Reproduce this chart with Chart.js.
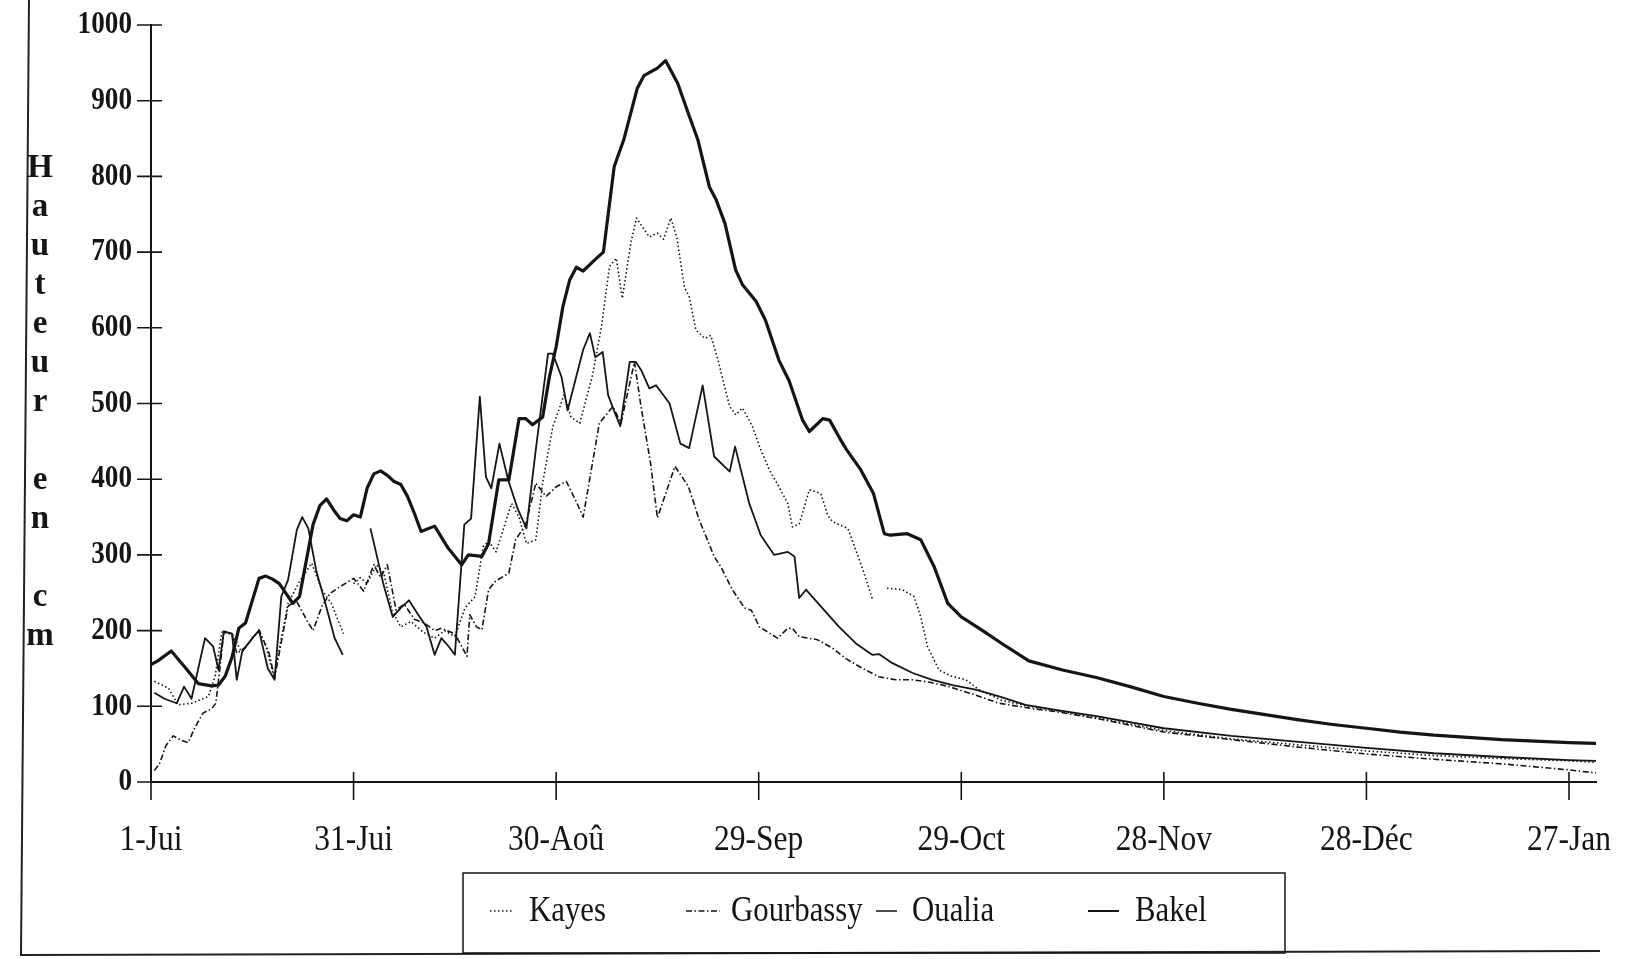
<!DOCTYPE html>
<html><head><meta charset="utf-8">
<script src="https://cdn.jsdelivr.net/npm/chart.js@4"></script>
<style>html,body{margin:0;padding:0;background:#fff}</style>
</head><body>
<canvas id="c" width="1625" height="959"></canvas>
<script>
// x axis: days since 1 July
const tickDays = [0, 30, 60, 90, 120, 150, 180, 210];
const tickLabels = ['1-Jui', '31-Jui', '30-Aoû', '29-Sep', '29-Oct', '28-Nov', '28-Déc', '27-Jan'];
const seriesNames = ['Kayes', 'Gourbassy', 'Oualia', 'Bakel'];
const yTitle = 'Hauteur en cm';

// [day, height in cm]
const kayes = [[0.5,133],[2.6,124],[4,102],[6,104],[8.5,113],[9.5,140],[10.5,198],[12,196],[13.4,172],[15,190],[15.9,199],[17,180],[18.2,139],[19.3,190],[20.3,236],[22,265],[23.8,289],[25.3,254],[26.7,236],[28.5,196],[29.2,null],[30,262],[31,270],[32,262],[33.4,287],[34.5,275],[35.7,226],[37,205],[38.5,212],[40.3,198],[42,190],[43.5,200],[45,192],[46.5,230],[48,245],[49.2,311],[50,318],[51.1,304],[53.4,368],[54.5,350],[55.6,315],[57,320],[58,395],[59.5,469],[61.2,512],[62.2,482],[63.5,474],[65.4,538],[66.7,601],[67.9,681],[68.9,692],[69.8,639],[71.1,714],[71.9,745],[73.8,720],[75,725],[75.9,717],[77,745],[77.9,718],[79,654],[79.7,641],[80.7,597],[82,586],[82.9,590],[83.9,560],[85.7,496],[86.6,485],[87.6,494],[89.1,469],[90.3,439],[91.6,412],[93,390],[94.3,368],[95,337],[96,341],[97.5,386],[99.2,381],[100.2,353],[100.9,344],[103.2,335],[104.4,306],[105.6,276],[106.9,240],[108,null],[109,256],[111.3,254],[113,245],[114,218],[115,179],[116.7,148],[118.5,140],[120.7,135],[122.6,122],[126,108],[130,100],[135,93],[140,85],[150,68],[160,57],[170,49],[180,41],[190,35],[200,31],[210,28],[214,26]];

const gourbassy = [[0.5,15],[1.3,25],[2.2,48],[3.3,61],[4.5,55],[5.5,52],[6.5,72],[7.7,91],[9,97],[9.6,104],[10.2,150],[10.8,199],[12,194],[12.7,170],[14,178],[16,201],[17.5,170],[18.3,137],[19.3,185],[20.3,232],[21.5,240],[23,215],[24,200],[25.3,232],[26.5,249],[28,258],[30,269],[31.5,252],[33,287],[34,270],[35,287],[36.3,227],[37.5,235],[39,215],[40.5,210],[42,200],[43,203],[45,196],[46.8,166],[47.2,221],[48.2,205],[49,201],[50,254],[51,265],[53,276],[54,320],[55.5,340],[57,395],[58.5,377],[60,390],[61.5,397],[63,370],[64,350],[66.4,474],[68.4,496],[69.6,474],[71.6,555],[72.5,500],[74,420],[75,349],[77.6,417],[78.5,405],[79.6,390],[81.2,346],[83.4,298],[84.4,284],[86.1,254],[87.9,230],[88.9,227],[90.1,205],[92.8,190],[94.3,203],[95,203],[96,192],[98.7,188],[100.9,177],[102.9,163],[105.4,150],[107.8,139],[110.3,135],[112.8,135],[115.2,132],[118.2,126],[122,115],[125.6,104],[130.5,97],[134,93],[140,84],[150,66],[160,56],[170,46],[180,37],[190,30],[200,24],[210,16],[214,12]];

const oualia = [[0.5,118],[2,110],[3.8,104],[4.9,126],[6,110],[8,190],[9.2,179],[10,148],[10.8,199],[12,196],[12.7,135],[13.5,172],[15,190],[16,200],[17.3,150],[18.3,135],[19.3,245],[20.3,267],[21.6,333],[22.4,350],[23.3,335],[24.5,278],[25.7,240],[27.2,190],[28.4,168],[30,null],[32.5,335],[34.4,262],[35.8,218],[37,230],[38.2,240],[39.5,222],[40.8,205],[42,168],[43,190],[44,180],[45,168],[46.4,340],[47.4,348],[48.7,509],[49.6,403],[50.4,388],[51.6,447],[52.9,399],[54.3,361],[55.6,335],[57,440],[58.8,566],[59.5,566],[60.8,535],[61.7,491],[64,571],[65,593],[65.8,561],[66.9,568],[67.7,511],[68.6,490],[69.5,470],[70.9,555],[71.8,555],[72.6,544],[73.8,520],[74.8,524],[76.8,500],[78.4,447],[79.7,441],[81.7,524],[83.4,430],[85.7,410],[86.5,443],[88.6,368],[90.3,326],[92.3,300],[94.3,304],[95.3,298],[96,243],[97,254],[99,234],[101.9,205],[104.4,183],[106.8,168],[107.8,169],[109.8,157],[112.8,144],[115.7,135],[118.7,128],[122.1,122],[125.6,113],[129.5,102],[134.2,95],[140,87],[150,71],[160,61],[170,53],[180,45],[190,38],[200,33],[210,29],[214,28]];

const bakel = [[0,155],[1,160],[3,173],[5,152],[7,130],[9,127],[10,128],[11,140],[12,165],[13,203],[14,210],[16,269],[17,272],[18,268],[19,262],[21,236],[22,245],[24,340],[25,365],[26,374],[27,360],[28,348],[29,345],[30,353],[31,350],[32,388],[33,407],[34,411],[35,405],[36,397],[37,393],[38,377],[39,355],[40,331],[42,338],[44,309],[46,287],[47,300],[49,298],[50,315],[51.5,399],[53,399],[54.5,480],[55.5,480],[56.5,472],[58,482],[59,535],[60,575],[61,628],[62,663],[63,680],[64,675],[66,692],[67,700],[68.6,813],[70,848],[72,916],[73,933],[75,943],[76.2,953],[78,923],[79.5,885],[81,848],[82.7,786],[83.7,769],[85,738],[86.6,676],[87.6,657],[89.6,635],[91,610],[93,557],[94.5,530],[96.5,478],[97.5,463],[99.5,480],[100.5,478],[102,454],[103,439],[105,414],[107,381],[108.6,328],[109.5,326],[112,328],[114,320],[116,284],[118,236],[120,218],[123,201],[126,183],[130,160],[135,148],[140,138],[145,126],[150,113],[155,104],[160,96],[165,89],[170,82],[175,76],[180,71],[185,66],[190,62],[195,59],[200,56],[205,54],[210,52],[214,51]];

const toXY = arr => arr.map(p => ({x: p[0], y: p[1]}));
const INK = '#151515';
const SERIF = "'Liberation Serif', 'DejaVu Serif', serif";

const styles = [
  {borderWidth: 1.6, borderDash: [1.5, 2.5]},
  {borderWidth: 1.6, borderDash: [6, 2.5, 1.5, 2.5]},
  {borderWidth: 1.8, borderDash: []},
  {borderWidth: 3.2, borderDash: []}
];
const allData = [kayes, gourbassy, oualia, bakel];

function squeezedText(ctx, txt, x, y, sx, align) {
  ctx.save();
  ctx.translate(x, y);
  ctx.scale(sx, 1);
  ctx.textAlign = align;
  ctx.textBaseline = 'middle';
  ctx.fillText(txt, 0, 0);
  ctx.restore();
}

const deco = {
  id: 'deco',
  beforeDraw(chart) {
    const ctx = chart.ctx;
    ctx.save();
    ctx.fillStyle = '#fff';
    ctx.fillRect(0, 0, chart.width, chart.height);
    ctx.strokeStyle = '#222';
    ctx.lineWidth = 2;
    ctx.beginPath();
    ctx.moveTo(29, 0); ctx.lineTo(21, 955); ctx.lineTo(1600, 951);
    ctx.stroke();
    ctx.restore();
  },
  afterDraw(chart) {
    const ctx = chart.ctx, xs = chart.scales.x, ys = chart.scales.y;
    ctx.save();
    ctx.strokeStyle = INK;
    ctx.fillStyle = INK;
    ctx.lineWidth = 1.6;
    ctx.beginPath();
    xs.ticks.forEach(t => { const p = xs.getPixelForValue(t.value); ctx.moveTo(p, ys.bottom - 10); ctx.lineTo(p, ys.bottom + 18); });
    ys.ticks.forEach(t => { const p = ys.getPixelForValue(t.value); ctx.moveTo(xs.left - 14, p); ctx.lineTo(xs.left + 11, p); });
    ctx.stroke();
    // tick labels (from the scales' ticks)
    ctx.font = "35px " + SERIF;
    xs.ticks.forEach(t => {
      const i = tickDays.indexOf(t.value);
      squeezedText(ctx, tickLabels[i], xs.getPixelForValue(t.value), ys.bottom + 59, 0.9, 'center');
    });
    ctx.font = "bold 32px " + SERIF;
    ys.ticks.forEach(t => {
      squeezedText(ctx, String(t.value), xs.left - 19, ys.getPixelForValue(t.value), 0.85, 'right');
    });
    // stacked y title
    ctx.font = "bold 33px " + SERIF;
    ctx.textAlign = 'center';
    ctx.textBaseline = 'middle';
    [...yTitle].forEach((ch, i) => { if (ch !== ' ') ctx.fillText(ch, 40, 168 + i * 39); });
    // legend box
    ctx.lineWidth = 1.5;
    ctx.strokeRect(463, 873, 822, 80);
    const items = [[490, 513, 529], [686, 720, 731], [876, 897, 912], [1088, 1119, 1135]];
    ctx.font = "35px " + SERIF;
    chart.data.datasets.forEach((ds, i) => {
      const it = items[i];
      ctx.beginPath();
      ctx.lineWidth = i === 3 ? 2 : 1.5;
      ctx.setLineDash(ds.borderDash || []);
      ctx.moveTo(it[0], 911); ctx.lineTo(it[1], 911);
      ctx.stroke();
      ctx.setLineDash([]);
      squeezedText(ctx, ds.label, it[2], 912, 0.88, 'left');
    });
    ctx.restore();
  }
};

new Chart(document.getElementById('c'), {
  type: 'line',
  data: {
    datasets: seriesNames.map((n, i) => ({
      label: n,
      data: toXY(allData[i]),
      borderColor: INK,
      borderWidth: styles[i].borderWidth,
      borderDash: styles[i].borderDash,
      pointRadius: 0,
      fill: false,
      tension: 0,
      spanGaps: false
    }))
  },
  options: {
    responsive: false,
    animation: false,
    layout: {padding: {top: 25, right: 29, left: 0, bottom: 0}},
    plugins: {legend: {display: false}, tooltip: {enabled: false}},
    elements: {line: {borderJoinStyle: 'round', borderCapStyle: 'butt'}},
    scales: {
      x: {
        type: 'linear', min: 0, max: 214,
        afterBuildTicks(s) { s.ticks = tickDays.map(v => ({value: v})); },
        afterFit(s) { s.height = 177; },
        grid: {display: false, drawTicks: false},
        border: {display: true, color: INK, width: 2},
        ticks: {display: false}
      },
      y: {
        min: 0, max: 1000,
        afterFit(s) { s.width = 151; },
        grid: {display: false, drawTicks: false},
        border: {display: true, color: INK, width: 2},
        ticks: {display: false, stepSize: 100}
      }
    }
  },
  plugins: [deco]
});
</script>
</body></html>
